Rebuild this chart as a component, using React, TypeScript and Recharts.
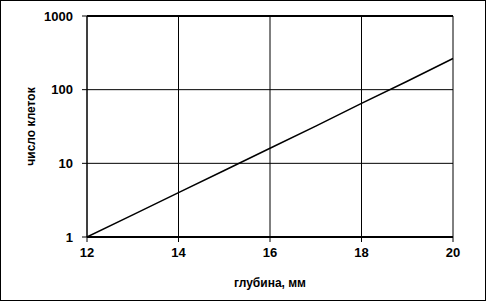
import React from "react"
import {
  LineChart,
  Line,
  XAxis,
  YAxis,
  CartesianGrid,
  ReferenceLine,
  Label,
} from "recharts"

// глубина, мм
const depth = [12, 13, 14, 15, 16, 17, 18, 19, 20]
// число клеток
const cells = [1, 2, 4, 8, 16, 32, 65, 130, 265]

const xTicks = [12, 14, 16, 18, 20]
const yTicks = [1, 10, 100, 1000]

const graphData = depth.map((d, i) => ({ depth: d, cells: cells[i] }))

const font = "'Liberation Sans', Arial, sans-serif"
const tickStyle = { fontSize: 13, fontWeight: 700, fill: "black", fontFamily: font }

const App: React.FC = () => {
  return (
    <div
      style={{
        position: "absolute",
        left: 0,
        top: 0,
        width: 486,
        height: 301,
        border: "1px solid black",
        boxSizing: "border-box",
        background: "white",
      }}
    >
      <LineChart
        data={graphData}
        width={484}
        height={299}
        margin={{ top: 15, right: 32, left: 0, bottom: 0 }}
        style={{ position: "absolute", left: 0, top: 0 }}
      >
        <CartesianGrid stroke="black" strokeWidth={1} />
        <XAxis
          dataKey="depth"
          type="number"
          domain={[12, 20]}
          ticks={xTicks}
          axisLine={{ stroke: "black", strokeWidth: 2 }}
          tickLine={{ stroke: "black" }}
          tickSize={5}
          tickMargin={6}
          tick={tickStyle}
          height={63}
        >
          <Label
            value="глубина, мм"
            position="insideBottom"
            offset={13}
            style={{ fontSize: 12, fontWeight: 700, fill: "black", fontFamily: font }}
          />
        </XAxis>
        <YAxis
          scale="log"
          domain={[1, 1000]}
          ticks={yTicks}
          allowDataOverflow
          axisLine={{ stroke: "black" }}
          tickLine={{ stroke: "black" }}
          tickSize={5}
          tickMargin={9}
          tick={tickStyle}
          width={86}
        >
          <Label
            value="число клеток"
            angle={-90}
            position="insideLeft"
            offset={30}
            style={{
              fontSize: 12,
              fontWeight: 700,
              fill: "black",
              fontFamily: font,
              textAnchor: "middle",
            }}
          />
        </YAxis>
        <ReferenceLine y={1000} stroke="black" strokeWidth={2} />
        <Line
          type="linear"
          dataKey="cells"
          stroke="black"
          strokeWidth={1.5}
          dot={false}
          isAnimationActive={false}
        />
      </LineChart>
    </div>
  )
}

export default App
